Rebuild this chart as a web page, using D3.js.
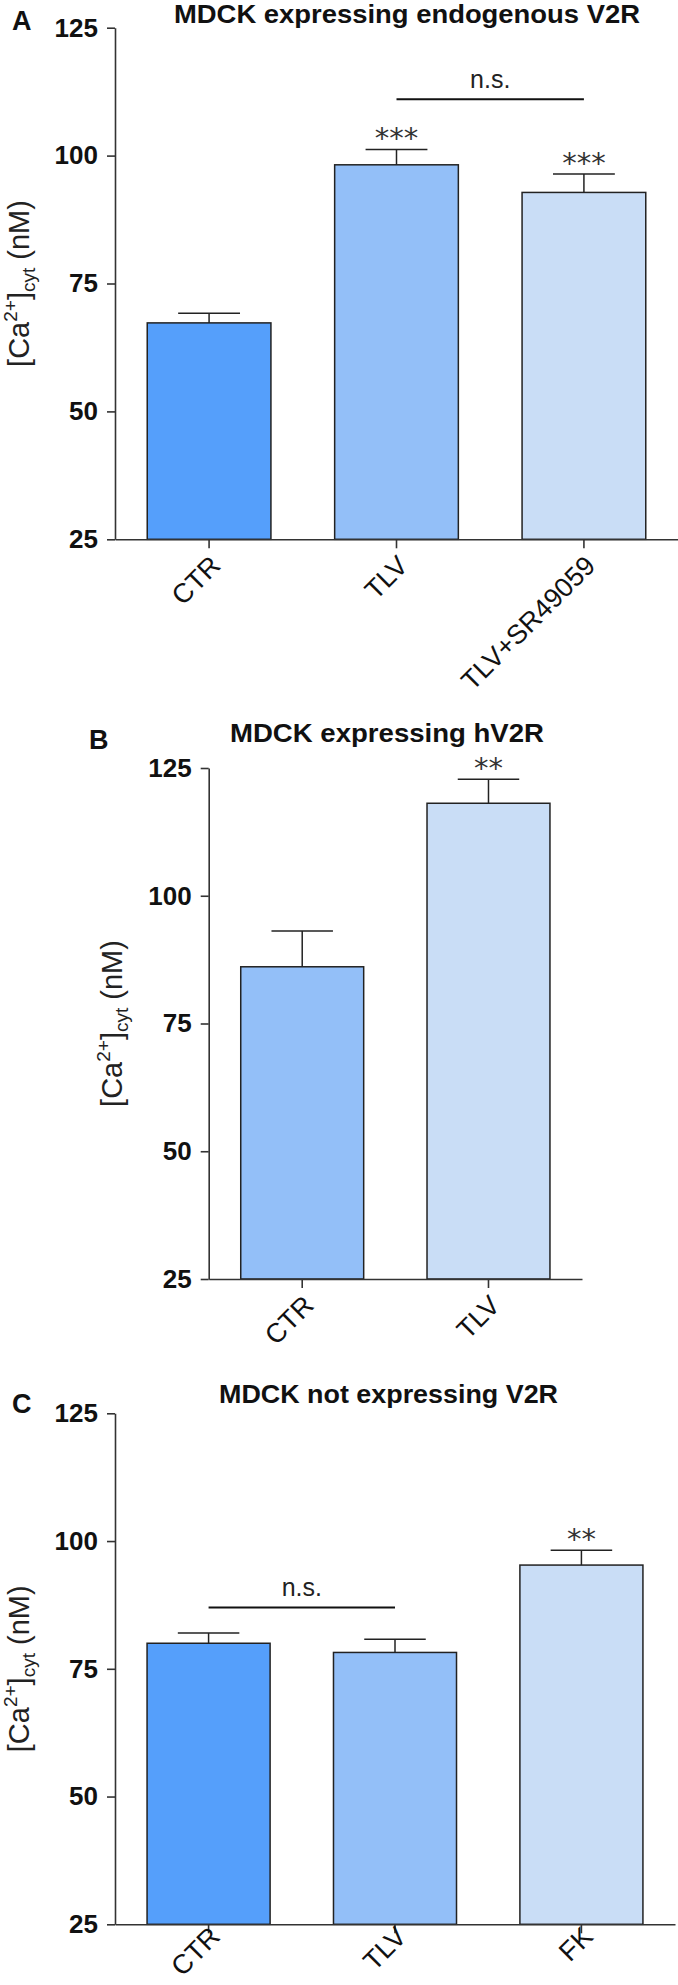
<!DOCTYPE html>
<html>
<head>
<meta charset="utf-8">
<script src="https://cdn.jsdelivr.net/npm/d3@7"></script>
<style>
  body { margin: 0; background: #fff; }
  svg { display: block; font-family: "Liberation Sans", Arial, sans-serif; }
</style>
</head>
<body>
<svg id="canvas" width="678" height="1985"></svg>
<script>
// ---- data ----
let yTicks = [25, 50, 75, 100, 125];
let titles = ['MDCK expressing endogenous V2R', 'MDCK expressing hV2R', 'MDCK not expressing V2R'];

let catsA = ['CTR', 'TLV', 'TLV+SR49059'];
let meansA = [67.3, 98.2, 92.8];
let semA = [1.9, 3.0, 3.6];
let starsA = ['', '***', '***'];
let nsA = ['TLV', 'TLV+SR49059', 111];

let catsB = ['CTR', 'TLV'];
let meansB = [86.1, 118.1];
let semB = [7.0, 4.7];
let starsB = ['', '**'];

let catsC = ['CTR', 'TLV', 'FK'];
let meansC = [80.0, 78.2, 95.3];
let semC = [2.0, 2.6, 2.9];
let starsC = ['', '', '**'];
let nsC = ['CTR', 'TLV', 87];

let dark = '#559ffb', mid = '#93bff8', light = '#c9ddf6';

let panels = [
  { tag: 'A', tagX: 12, tagY: 30, title: titles[0], titleX: 174, titleY: 22.5, titleW: 466,
    cats: catsA, means: meansA, sem: semA, stars: starsA, ns: nsA, fills: [dark, mid, light],
    x0: 115, x1: 678, yTop: 27.7, yBot: 539.3, labDy: 28 },
  { tag: 'B', tagX: 89, tagY: 748.6, title: titles[1], titleX: 230, titleY: 742, titleW: 314,
    cats: catsB, means: meansB, sem: semB, stars: starsB, ns: null, fills: [mid, light],
    x0: 208.7, x1: 582, yTop: 768, yBot: 1279, labDy: 28 },
  { tag: 'C', tagX: 12, tagY: 1413, title: titles[2], titleX: 219, titleY: 1403, titleW: 339,
    cats: catsC, means: meansC, sem: semC, stars: starsC, ns: nsC, fills: [dark, mid, light],
    x0: 115, x1: 675, yTop: 1413.3, yBot: 1924.3, labDy: 14 }
];

let svg = d3.select('#canvas');
svg.append('rect').attr('width', 678).attr('height', 1985).attr('fill', '#fff');

panels.forEach(p => {
  let g = svg.append('g');
  let x = d3.scaleBand().domain(p.cats).range([p.x0, p.x1]).paddingInner(0.34).paddingOuter(0.172);
  let y = d3.scaleLinear().domain([25, 125]).range([p.yBot, p.yTop]);
  let bw = x.bandwidth();

  // bars
  g.selectAll('rect.bar')
    .data(p.cats)
    .enter()
    .append('rect')
    .attr('class', 'bar')
    .attr('x', d => x(d))
    .attr('y', (d, i) => y(p.means[i]))
    .attr('width', bw)
    .attr('height', (d, i) => p.yBot - y(p.means[i]))
    .attr('fill', (d, i) => p.fills[i])
    .attr('stroke', '#222')
    .attr('stroke-width', 1.5);

  // error bars (upper only)
  let err = g.selectAll('g.err')
    .data(p.cats)
    .enter()
    .append('g')
    .attr('class', 'err')
    .attr('stroke', '#222')
    .attr('stroke-width', 1.5);
  err.append('line')
    .attr('x1', d => x(d) + bw / 2)
    .attr('x2', d => x(d) + bw / 2)
    .attr('y1', (d, i) => y(p.means[i]))
    .attr('y2', (d, i) => y(p.means[i] + p.sem[i]));
  err.append('line')
    .attr('x1', d => x(d) + bw / 4)
    .attr('x2', d => x(d) + bw * 3 / 4)
    .attr('y1', (d, i) => y(p.means[i] + p.sem[i]))
    .attr('y2', (d, i) => y(p.means[i] + p.sem[i]));

  // significance stars
  g.selectAll('text.star')
    .data(p.cats)
    .enter()
    .append('text')
    .attr('class', 'star')
    .attr('x', d => x(d) + bw / 2)
    .attr('y', (d, i) => y(p.means[i] + p.sem[i]) - 1)
    .attr('text-anchor', 'middle')
    .attr('font-family', 'DejaVu Sans')
    .attr('font-size', 29)
    .attr('fill', '#333')
    .text((d, i) => p.stars[i]);

  // n.s. bracket
  if (p.ns) {
    let xa = x(p.ns[0]) + bw / 2, xb = x(p.ns[1]) + bw / 2;
    g.append('line')
      .attr('x1', xa).attr('x2', xb)
      .attr('y1', y(p.ns[2])).attr('y2', y(p.ns[2]))
      .attr('stroke', '#111').attr('stroke-width', 2);
    g.append('text')
      .attr('x', (xa + xb) / 2)
      .attr('y', y(p.ns[2]) - 11)
      .attr('text-anchor', 'middle')
      .attr('font-size', 25)
      .attr('fill', '#222')
      .text('n.s.');
  }

  // y axis
  let yAxis = g.append('g')
    .attr('transform', 'translate(' + p.x0 + ',0)')
    .call(d3.axisLeft(y).tickValues(yTicks).tickSize(8).tickSizeOuter(0).tickPadding(9));
  yAxis.selectAll('text')
    .attr('font-size', 26)
    .attr('font-weight', 'bold')
    .attr('font-family', '"Liberation Sans", Arial, sans-serif')
    .attr('fill', '#111');

  // x axis
  let xAxis = g.append('g')
    .attr('transform', 'translate(0,' + p.yBot + ')')
    .call(d3.axisBottom(x).tickSize(9).tickSizeOuter(0));
  xAxis.selectAll('text')
    .attr('x', 0)
    .attr('y', 0)
    .attr('dy', 0)
    .attr('text-anchor', 'end')
    .attr('transform', 'translate(13,' + p.labDy + ') rotate(-45)')
    .attr('font-size', 27)
    .attr('font-family', '"Liberation Sans", Arial, sans-serif')
    .attr('fill', '#111');

  g.selectAll('.domain, .tick line')
    .attr('stroke', '#333')
    .attr('stroke-width', 1.6);

  // y axis label
  let lab = g.append('text')
    .attr('transform', 'translate(' + (p.x0 - 86.5) + ',' + ((p.yTop + p.yBot) / 2) + ') rotate(-90)')
    .attr('text-anchor', 'middle')
    .attr('font-size', 29)
    .attr('fill', '#222');
  lab.append('tspan').text('[Ca');
  lab.append('tspan').attr('font-size', 19).attr('dy', -12).text('2+');
  lab.append('tspan').attr('dy', 12).text(']');
  lab.append('tspan').attr('font-size', 19).attr('dy', 6).text('cyt');
  lab.append('tspan').attr('dy', -6).text('\u00a0(nM)');

  // title and panel letter
  g.append('text')
    .attr('x', p.titleX)
    .attr('y', p.titleY)
    .attr('font-size', 25)
    .attr('font-weight', 'bold')
    .attr('textLength', p.titleW)
    .attr('lengthAdjust', 'spacingAndGlyphs')
    .attr('fill', '#111')
    .text(p.title);
  g.append('text')
    .attr('x', p.tagX)
    .attr('y', p.tagY)
    .attr('font-size', 27)
    .attr('font-weight', 'bold')
    .attr('fill', '#111')
    .text(p.tag);
});
</script>
</body>
</html>
